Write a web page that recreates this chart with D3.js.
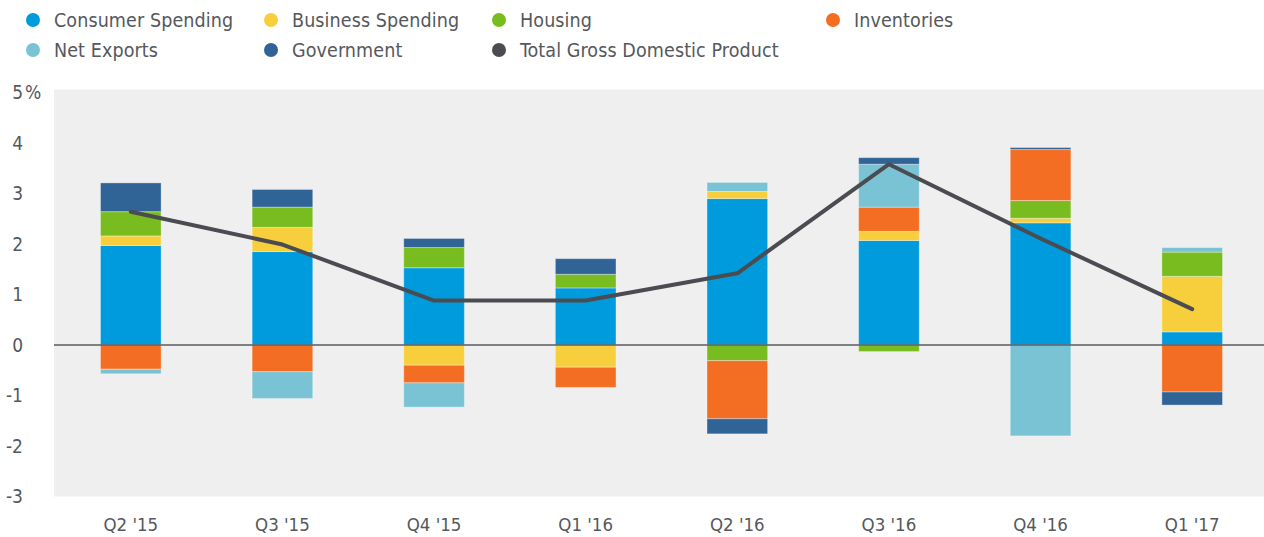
<!DOCTYPE html>
<html>
<head>
<meta charset="utf-8">
<script src="https://cdn.jsdelivr.net/npm/d3@7"></script>
<style>
  html, body { margin: 0; padding: 0; background: #fff; }
  svg { display: block; }
  text { font-family: "Liberation Sans Narrow", "DejaVu Sans Condensed", "Roboto", sans-serif; fill: #55585d; }
</style>
</head>
<body>
<div id="chart"></div>
<script>
// quarters on the x axis
const quarters = ["Q2 '15", "Q3 '15", "Q4 '15", "Q1 '16", "Q2 '16", "Q3 '16", "Q4 '16", "Q1 '17"];

// contributions to GDP growth, percentage points
const consumerSpending = [1.97, 1.85, 1.53, 1.13, 2.90, 2.07, 2.42, 0.26];
const businessSpending = [0.19, 0.48, -0.40, -0.44, 0.14, 0.18, 0.09, 1.10];
const housing = [0.48, 0.40, 0.40, 0.27, -0.31, -0.13, 0.35, 0.48];
const inventories = [-0.48, -0.53, -0.35, -0.40, -1.15, 0.48, 1.01, -0.93];
const netExports = [-0.09, -0.53, -0.48, 0, 0.18, 0.85, -1.80, 0.09];
const government = [0.57, 0.35, 0.18, 0.31, -0.30, 0.13, 0.04, -0.26];
const totalGDP = [2.64, 1.99, 0.88, 0.88, 1.42, 3.58, 2.11, 0.71];

const yTicks = [-3, -2, -1, 0, 1, 2, 3, 4, 5];

const seriesKeys = ['Consumer Spending', 'Business Spending', 'Housing', 'Inventories', 'Net Exports', 'Government'];
const seriesValues = [consumerSpending, businessSpending, housing, inventories, netExports, government];
const colors = {
  'Consumer Spending': '#009bdc',
  'Business Spending': '#f7cf3d',
  'Housing': '#79bc1f',
  'Inventories': '#f36d22',
  'Net Exports': '#79c3d4',
  'Government': '#306496',
  'Total Gross Domestic Product': '#4a4c51'
};

const width = 1264, height = 537;
const margin = { left: 54, top: 90, bottom: 40 };

const svg = d3.select('#chart').append('svg')
  .attr('width', width)
  .attr('height', height);

// build table for the stack
const table = quarters.map((q, i) => {
  const row = { quarter: q };
  seriesKeys.forEach((k, j) => { row[k] = seriesValues[j][i]; });
  return row;
});

const x = d3.scaleBand()
  .domain(quarters)
  .range([55, 1268])
  .paddingInner(0.6)
  .paddingOuter(0.3);

const y = d3.scaleLinear()
  .domain([-3, 5])
  .range([496.5, 92.5]);

// plot background
svg.append('rect')
  .attr('x', margin.left)
  .attr('y', y(5) - 3)
  .attr('width', width - margin.left)
  .attr('height', y(-3) - y(5) + 3)
  .attr('fill', '#efefef');

// stacked bars
const stack = d3.stack()
  .keys(seriesKeys)
  .offset(d3.stackOffsetDiverging);

const layers = svg.append('g').selectAll('g')
  .data(stack(table))
  .join('g')
  .attr('fill', d => colors[d.key]);

layers.selectAll('rect')
  .data(d => d.filter(s => s[1] - s[0] !== 0))
  .join('rect')
  .attr('x', d => x(d.data.quarter))
  .attr('width', x.bandwidth())
  .attr('y', d => y(d[1]))
  .attr('height', d => y(d[0]) - y(d[1]))
  .attr('stroke', 'rgba(255,255,255,0.35)')
  .attr('stroke-width', 1);

// zero line
svg.append('line')
  .attr('x1', margin.left)
  .attr('x2', width)
  .attr('y1', y(0))
  .attr('y2', y(0))
  .attr('stroke', '#595b60')
  .attr('stroke-width', 1.5);

// GDP line
const line = d3.line()
  .x((d, i) => x(quarters[i]) + x.bandwidth() / 2)
  .y(d => y(d));

svg.append('path')
  .datum(totalGDP)
  .attr('d', line)
  .attr('fill', 'none')
  .attr('stroke', colors['Total Gross Domestic Product'])
  .attr('stroke-width', 4)
  .attr('stroke-linejoin', 'round')
  .attr('stroke-linecap', 'round');

// y axis labels
const yAxis = svg.append('g');
yAxis.selectAll('text')
  .data(yTicks)
  .join('text')
  .attr('x', 23)
  .attr('y', d => y(d))
  .attr('dy', '0.35em')
  .attr('text-anchor', 'end')
  .style('font-size', '19px')
  .text(d => d);
yAxis.append('text')
  .attr('x', 25)
  .attr('y', y(5))
  .attr('dy', '0.35em')
  .style('font-size', '19px')
  .text('%');

// x axis labels
svg.append('g').selectAll('text')
  .data(quarters)
  .join('text')
  .attr('x', d => x(d) + x.bandwidth() / 2)
  .attr('y', 531)
  .attr('text-anchor', 'middle')
  .style('font-size', '18.5px')
  .text(d => d);

// legend
const legendItems = [
  { key: 'Consumer Spending', cx: 33, cy: 20 },
  { key: 'Business Spending', cx: 271, cy: 20 },
  { key: 'Housing', cx: 499, cy: 20 },
  { key: 'Inventories', cx: 833, cy: 20 },
  { key: 'Net Exports', cx: 33, cy: 50 },
  { key: 'Government', cx: 271, cy: 50 },
  { key: 'Total Gross Domestic Product', cx: 499, cy: 50 }
];

const legend = svg.append('g').selectAll('g')
  .data(legendItems)
  .join('g')
  .attr('transform', d => `translate(${d.cx},${d.cy})`);

legend.append('circle')
  .attr('r', 7)
  .attr('fill', d => colors[d.key]);

legend.append('text')
  .attr('x', 21)
  .attr('dy', '0.35em')
  .style('font-size', '19.5px')
  .style('letter-spacing', '0.1px')
  .text(d => d.key);
</script>
</body>
</html>
